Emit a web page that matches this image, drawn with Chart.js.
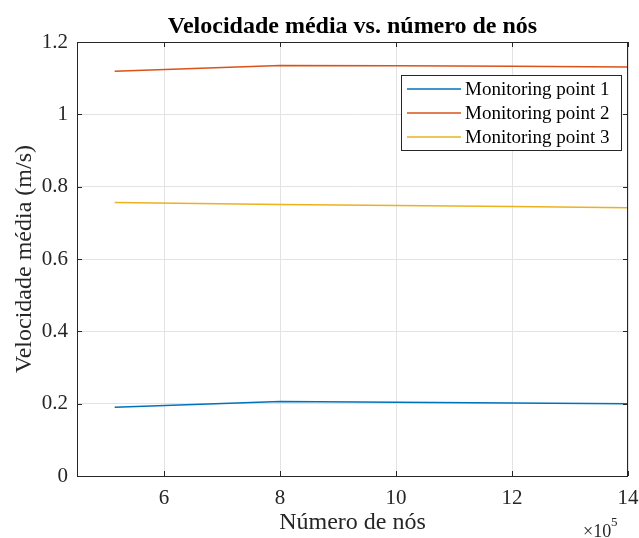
<!DOCTYPE html>
<html>
<head>
<meta charset="utf-8">
<script src="https://cdn.jsdelivr.net/npm/chart.js@4/dist/chart.umd.min.js"></script>
<style>
  html, body { margin: 0; padding: 0; background: #fff; }
  #wrap { width: 639px; height: 538px; }
</style>
</head>
<body>
<div id="wrap"><canvas id="velChart"></canvas></div>
<script>
// data
const nodes = [515000, 800000, 1000000, 1200000, 1400000];
const point1 = [0.19, 0.206, 0.204, 0.202, 0.2];
const point2 = [1.119, 1.135, 1.134, 1.133, 1.131];
const point3 = [0.756, 0.751, 0.748, 0.745, 0.742];
const seriesNames = ['Monitoring point 1', 'Monitoring point 2', 'Monitoring point 3'];
const seriesColors = ['#0072BD', '#D95319', '#EDB120'];
const xTicks = [600000, 800000, 1000000, 1200000, 1400000];
const yTicks = [0, 0.2, 0.4, 0.6, 0.8, 1, 1.2];
const chartTitle = 'Velocidade média vs. número de nós';

const serif = "'Liberation Serif', 'Times New Roman', serif";
const axisColor = '#262626';

const toPoints = vals => vals.map((v, i) => ({ x: nodes[i], y: v }));

// title over the axes, box, inward ticks, exponent and legend like the matlab figure
const matlabStuff = {
    id: 'matlabStuff',
    afterDraw(chart) {
        const ctx = chart.ctx;
        const a = chart.chartArea;
        const xs = chart.scales.x, ys = chart.scales.y;
        ctx.save();

        ctx.fillStyle = '#000';
        ctx.font = 'bold 24px ' + serif;
        ctx.textAlign = 'center';
        ctx.textBaseline = 'alphabetic';
        ctx.fillText(chartTitle, (a.left + a.right) / 2, a.top - 9);

        ctx.strokeStyle = axisColor;
        ctx.lineWidth = 1;
        ctx.strokeRect(a.left + 0.5, a.top + 0.5, a.right - a.left - 1, a.bottom - a.top);
        const tl = 5;
        ctx.beginPath();
        xTicks.forEach(v => {
            const px = Math.round(xs.getPixelForValue(v)) + 0.5;
            ctx.moveTo(px, a.bottom); ctx.lineTo(px, a.bottom - tl);
            ctx.moveTo(px, a.top); ctx.lineTo(px, a.top + tl);
        });
        yTicks.forEach(v => {
            const py = Math.round(ys.getPixelForValue(v)) + 0.5;
            ctx.moveTo(a.left, py); ctx.lineTo(a.left + tl, py);
            ctx.moveTo(a.right, py); ctx.lineTo(a.right - tl, py);
        });
        ctx.stroke();

        // x10^5
        ctx.fillStyle = axisColor;
        ctx.textAlign = 'left';
        ctx.font = '18px ' + serif;
        ctx.fillText('\u00d710', a.right - 45, a.bottom + 61);
        ctx.font = '13px ' + serif;
        ctx.fillText('5', a.right - 17, a.bottom + 50);

        // legend
        const bw = 220, bh = 75;
        const bx = a.right - 7 - bw, by = a.top + 33;
        ctx.fillStyle = '#fff';
        ctx.fillRect(bx, by, bw, bh);
        ctx.strokeStyle = axisColor;
        ctx.strokeRect(bx + 0.5, by + 0.5, bw, bh);
        ctx.font = '19px ' + serif;
        ctx.textBaseline = 'middle';
        seriesNames.forEach((name, i) => {
            const ry = by + 14 + i * 24;
            ctx.strokeStyle = seriesColors[i];
            ctx.lineWidth = 1.5;
            ctx.beginPath();
            ctx.moveTo(bx + 6, ry); ctx.lineTo(bx + 60, ry);
            ctx.stroke();
            ctx.fillStyle = '#000';
            ctx.fillText(name, bx + 64, ry + 1);
        });
        ctx.restore();
    }
};

new Chart(
    document.getElementById('velChart'),
    {
        type: 'line',
        data: {
            datasets: [point1, point2, point3].map((vals, i) => ({
                label: seriesNames[i],
                data: toPoints(vals),
                borderColor: seriesColors[i],
                backgroundColor: seriesColors[i],
                borderWidth: 1.5,
                pointRadius: 0,
                tension: 0
            }))
        },
        options: {
            responsive: true,
            maintainAspectRatio: false,
            animation: false,
            layout: { padding: { left: 0, right: 11, top: 42, bottom: 0 } },
            plugins: {
                legend: { display: false },
                tooltip: { enabled: false },
                title: { display: false }
            },
            scales: {
                x: {
                    type: 'linear',
                    min: 450000,
                    max: 1400000,
                    afterBuildTicks: s => { s.ticks = xTicks.map(v => ({ value: v })); },
                    afterFit: s => { s.height = 62; s.paddingLeft = 0; s.paddingRight = 0; },
                    grid: { color: '#e3e3e3', drawTicks: false },
                    border: { display: false },
                    ticks: {
                        color: axisColor,
                        padding: 10,
                        maxRotation: 0,
                        font: { family: serif, size: 21 },
                        callback: v => String(v / 100000)
                    },
                    title: {
                        display: true,
                        text: 'Número de nós',
                        color: axisColor,
                        font: { family: serif, size: 24 },
                        padding: { bottom: 1 }
                    }
                },
                y: {
                    min: 0,
                    max: 1.2,
                    afterBuildTicks: s => { s.ticks = yTicks.map(v => ({ value: v })); },
                    afterFit: s => { s.width = 77; s.paddingTop = 0; s.paddingBottom = 0; },
                    grid: { color: '#e3e3e3', drawTicks: false },
                    border: { display: false },
                    ticks: {
                        color: axisColor,
                        padding: 9,
                        font: { family: serif, size: 21 },
                        callback: v => String(Math.round(v * 10) / 10)
                    },
                    title: {
                        display: true,
                        text: 'Velocidade média (m/s)',
                        color: axisColor,
                        font: { family: serif, size: 24 },
                        padding: { top: 10 }
                    }
                }
            }
        },
        plugins: [matlabStuff]
    }
);
</script>
</body>
</html>
